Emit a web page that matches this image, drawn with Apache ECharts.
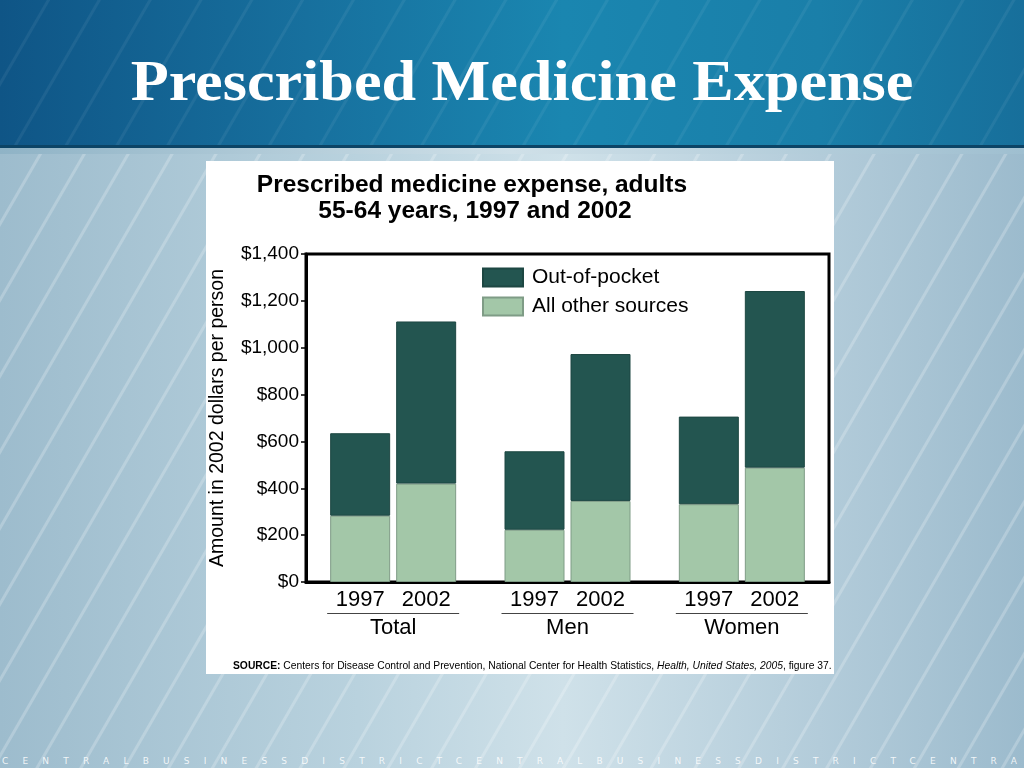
<!DOCTYPE html>
<html>
<head>
<meta charset="utf-8">
<script src="https://cdn.jsdelivr.net/npm/echarts@6/dist/echarts.min.js"></script>
<style>
html,body{margin:0;padding:0;width:1024px;height:768px;overflow:hidden;}
#bg{position:absolute;left:0;top:0;width:1024px;height:768px;
background:
 repeating-linear-gradient(120deg, rgba(255,255,255,0) 0px, rgba(255,255,255,0) 34px, rgba(255,255,255,0.22) 35px, rgba(255,255,255,0.22) 37px, rgba(255,255,255,0) 38px),
 linear-gradient(90deg,#9dbccd 0%,#b9d2de 35%,#cfe1e9 55%,#b3ccda 80%,#9cbbcd 100%);}
#band{position:absolute;left:0;top:0;width:1024px;height:145px;
background:
 repeating-linear-gradient(120deg, rgba(255,255,255,0) 0px, rgba(255,255,255,0) 40px, rgba(255,255,255,0.06) 41px, rgba(255,255,255,0.06) 43px, rgba(255,255,255,0) 44px),
 linear-gradient(90deg,#0f5586 0%,#17709e 30%,#1a86b0 55%,#1a7fa9 80%,#176f9b 100%);
border-bottom:3px solid #0c4466;}
#strip{position:absolute;left:0;top:148px;width:1024px;height:6px;background:linear-gradient(90deg,#8fb3c6,#cfe0e8,#9fbfd0);}
#foot{position:absolute;left:2px;top:756px;width:1100px;font-family:"DejaVu Sans",sans-serif;font-size:9px;color:rgba(255,255,255,0.85);letter-spacing:14.2px;white-space:nowrap;}
#chart{position:absolute;left:0;top:0;width:1024px;height:768px;}
</style>
</head>
<body>
<div id="bg"></div><div id="band"></div><div id="strip"></div>
<div id="foot">CENTRALBUSINESSDISTRICTCENTRALBUSINESSDISTRICTCENTRA</div>
<div id="chart"></div>
<script>
var categories = ['Total', 'Men', 'Women'];
var years = ['1997', '2002'];
var otherSources1997 = [283, 223, 332];
var outOfPocket1997 = [352, 335, 374];
var otherSources2002 = [420, 346, 488];
var outOfPocket2002 = [692, 627, 754];
var yTicks = [0, 200, 400, 600, 800, 1000, 1200, 1400];

var DARK = '#235550', LIGHT = '#a3c7a8';
var FONT = '"Liberation Sans", Arial, sans-serif';

var chart = echarts.init(document.getElementById('chart'), null, {renderer: 'canvas'});

function barSeries(name, stack, data, color) {
  return {
    name: name, type: 'bar', stack: stack, data: data,
    barWidth: 60, barGap: '10%',
    itemStyle: {color: color, borderColor: color === DARK ? '#1d4742' : '#7f9c86', borderWidth: 1},
    emphasis: {disabled: true}
  };
}

chart.setOption({
  animation: false,
  backgroundColor: 'transparent',
  graphic: [
    {type: 'rect', shape: {x: 206, y: 161, width: 628, height: 513}, style: {fill: '#fff'}, z: -10},
    {type: 'text', x: 522, y: 86, scaleX: 1.11, style: {x: 0, y: 0, text: 'Prescribed Medicine Expense', textAlign: 'center', textVerticalAlign: 'middle',
      font: 'bold 56px "Liberation Serif", "Times New Roman", serif', fill: '#fff',
      textShadowColor: '#111', textShadowOffsetX: 3, textShadowOffsetY: 3, textShadowBlur: 0}},
    {type: 'text', style: {x: 472, y: 185, text: 'Prescribed medicine expense, adults', textAlign: 'center', textVerticalAlign: 'middle',
      font: 'bold 24.5px ' + FONT, fill: '#000'}},
    {type: 'text', style: {x: 475, y: 211, text: '55-64 years, 1997 and 2002', textAlign: 'center', textVerticalAlign: 'middle',
      font: 'bold 24.5px ' + FONT, fill: '#000'}},
    {type: 'text', style: {x: 233, y: 666, textVerticalAlign: 'middle',
      text: '{b|SOURCE:} Centers for Disease Control and Prevention, National Center for Health Statistics, {i|Health, United States, 2005}, figure 37.',
      font: '10.3px ' + FONT, fill: '#000',
      rich: {b: {fontWeight: 'bold', fontSize: 10.3, fontFamily: FONT}, i: {fontStyle: 'italic', fontSize: 10.3, fontFamily: FONT}}}}
  ],
  legend: {
    orient: 'vertical', left: 482, top: 267, padding: 0, itemWidth: 40, itemHeight: 18, itemGap: 8,
    icon: 'rect', selectedMode: false,
    data: ['Out-of-pocket', 'All other sources'],
    textStyle: {fontFamily: FONT, fontSize: 21, lineHeight: 20, color: '#000', padding: [0, 0, 0, 4]}
  },
  grid: {left: 306, right: 195, top: 254, bottom: 186, show: true, borderColor: '#000', borderWidth: 3, backgroundColor: '#fff', containLabel: false},
  xAxis: {
    type: 'category', data: categories,
    axisTick: {show: false},
    axisLine: {lineStyle: {color: '#000', width: 3}},
    axisLabel: {
      margin: 6, interval: 0,
      formatter: function (v) { return '{y|' + years[0] + '}{y|' + years[1] + '}\n{l|}\n{g|' + v + '}'; },
      rich: {
        y: {fontFamily: FONT, fontSize: 22, color: '#000', width: 66, align: 'center', lineHeight: 24},
        l: {width: 132, height: 1, lineHeight: 3, backgroundColor: '#444'},
        g: {fontFamily: FONT, fontSize: 22, color: '#000', lineHeight: 26}
      }
    }
  },
  yAxis: {
    type: 'value', min: yTicks[0], max: yTicks[yTicks.length - 1], interval: 200,
    name: 'Amount in 2002 dollars per person', nameLocation: 'middle', nameGap: 78, nameRotate: 90,
    nameTextStyle: {fontFamily: FONT, fontSize: 19.5, color: '#000'},
    axisLine: {show: true, lineStyle: {color: '#000', width: 3}},
    axisTick: {show: true, length: 5, lineStyle: {color: '#000', width: 1.5}},
    splitLine: {show: false},
    axisLabel: {fontFamily: FONT, fontSize: 19, color: '#000', margin: 7,
      formatter: function (v) { return '$' + v.toLocaleString('en-US'); }}
  },
  series: [
    barSeries('All other sources', 'y1997', otherSources1997, LIGHT),
    barSeries('Out-of-pocket', 'y1997', outOfPocket1997, DARK),
    barSeries('All other sources', 'y2002', otherSources2002, LIGHT),
    barSeries('Out-of-pocket', 'y2002', outOfPocket2002, DARK)
  ]
});
</script>
</body>
</html>
